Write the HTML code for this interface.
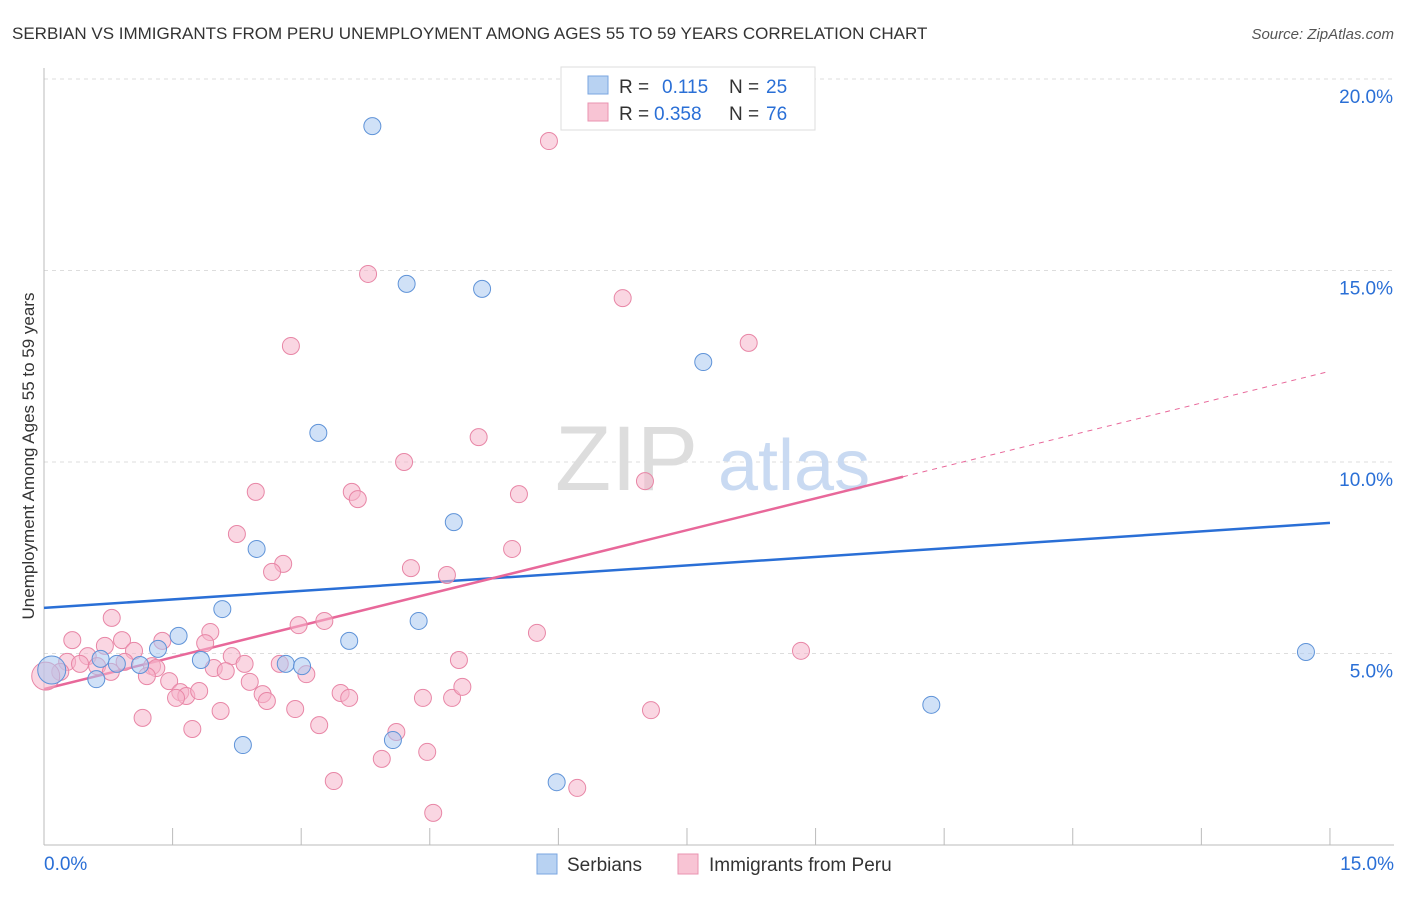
<!DOCTYPE html>
<html><head><meta charset="utf-8"><style>
body{margin:0;background:#fff;font-family:"Liberation Sans",sans-serif;}
svg text{font-family:"Liberation Sans",sans-serif;}
</style></head><body>
<svg id="chart" width="1406" height="892" xmlns="http://www.w3.org/2000/svg">
<text x="12" y="39" font-size="17" fill="#333">SERBIAN VS IMMIGRANTS FROM PERU UNEMPLOYMENT AMONG AGES 55 TO 59 YEARS CORRELATION CHART</text>
<text x="1394" y="39" font-size="15" fill="#555" text-anchor="end" font-style="italic">Source: ZipAtlas.com</text>
<g id="grid"></g>
<text x="555" y="490" font-size="92" fill="#ddd" font-family="Liberation Serif">ZIP</text>
<text x="718" y="490" font-size="72" fill="#c9daf2">atlas</text>
<text transform="translate(34,456) rotate(-90)" font-size="17" fill="#333" text-anchor="middle">Unemployment Among Ages 55 to 59 years</text>
<g id="lines"></g>
<g id="points"></g>
<g>
<rect x="561" y="67" width="254" height="63" fill="#fff" stroke="#ddd"/>
<rect x="588" y="76" width="20" height="18" fill="#b8d2f2" stroke="#7aa6e0"/>
<text x="619" y="93" font-size="19" fill="#333">R = </text><text x="662" y="93" font-size="19" fill="#2a6fd6">0.115</text>
<text x="729" y="93" font-size="19" fill="#333">N = </text><text x="766" y="93" font-size="19" fill="#2a6fd6">25</text>
<rect x="588" y="103" width="20" height="18" fill="#f8c4d4" stroke="#ea93b0"/>
<text x="619" y="120" font-size="19" fill="#333">R = </text><text x="654" y="120" font-size="19" fill="#2a6fd6">0.358</text>
<text x="729" y="120" font-size="19" fill="#333">N = </text><text x="766" y="120" font-size="19" fill="#2a6fd6">76</text>
</g>
<g>
<rect x="537" y="854" width="20" height="20" fill="#b8d2f2" stroke="#7aa6e0"/>
<text x="567" y="871" font-size="19" fill="#333">Serbians</text>
<rect x="678" y="854" width="20" height="20" fill="#f8c4d4" stroke="#ea93b0"/>
<text x="709" y="871" font-size="19" fill="#333">Immigrants from Peru</text>
</g>
</svg>
<script>
const yTicks=[5,10,15,20];
const yTickLabels=["5.0%","10.0%","15.0%","20.0%"];
const xTickLabels=["0.0%","15.0%"];
const blueX=[3.83,4.23,5.11,7.69,3.20,4.78,2.48,2.08,4.37,1.57,3.56,1.33,0.66,0.85,1.12,1.83,2.82,3.01,0.61,0.09,2.32,4.07,5.98,10.35,14.72];
const blueY=[18.77,14.65,14.52,12.61,10.76,8.43,7.73,6.16,5.85,5.46,5.33,5.12,4.86,4.73,4.70,4.83,4.73,4.67,4.33,4.57,2.61,2.74,1.64,3.66,5.04];
const pinkX=[5.89,3.78,6.75,2.88,8.22,5.07,4.20,2.47,3.59,3.66,5.54,7.01,2.25,5.46,2.79,2.66,4.28,4.70,0.79,3.27,2.97,5.75,0.33,0.91,1.94,1.38,1.88,0.71,1.05,0.51,2.19,8.83,4.84,0.27,0.42,0.62,0.94,1.26,1.31,1.98,2.34,2.75,2.12,0.19,0.78,1.20,3.06,0.02,1.46,2.40,1.59,1.66,1.81,1.54,2.55,2.60,3.46,3.56,4.42,4.76,4.88,2.06,2.93,7.08,1.15,3.21,1.73,4.11,4.47,3.94,3.38,6.22,4.54];
const pinkY=[18.38,14.91,14.28,13.03,13.11,10.65,10.0,9.22,9.22,9.03,9.16,9.50,8.12,7.73,7.34,7.13,7.23,7.05,5.93,5.85,5.74,5.54,5.35,5.35,5.56,5.33,5.27,5.20,5.07,4.93,4.93,5.07,4.83,4.78,4.73,4.67,4.78,4.67,4.62,4.62,4.73,4.73,4.54,4.52,4.52,4.41,4.46,4.41,4.28,4.26,3.99,3.89,4.02,3.84,3.94,3.76,3.97,3.84,3.84,3.84,4.13,3.50,3.55,3.52,3.32,3.13,3.03,2.95,2.43,2.25,1.67,1.49,0.84];
const blueLine=[6.19,8.41];
const pinkLine=[4.07,12.37];
const pinkSolidEnd=10.02;
const NS="http://www.w3.org/2000/svg";
const X=v=>44+v*85.73, Y=v=>845-v*38.3;
function mk(tag,attrs,parent){const e=document.createElementNS(NS,tag);for(const k in attrs)e.setAttribute(k,attrs[k]);document.getElementById(parent).appendChild(e);return e;}
// grid & axes
yTicks.forEach((t,i)=>{
 const g=mk('line',{x1:44,x2:1394,y1:Y(t),y2:Y(t),stroke:'#ddd','stroke-dasharray':'4,4'},'grid');
 
 
 const tx=mk('text',{x:1393,y:Y(t)+24,'font-size':19,fill:'#2a6fd6','text-anchor':'end'},'grid');
 tx.textContent=yTickLabels[i];
 
 
});
const ax=mk('line',{x1:44,x2:1394,y1:845,y2:845,stroke:'#bbb'},'grid');


const ay=mk('line',{x1:44,x2:44,y1:68,y2:845,stroke:'#bbb'},'grid');


for(let i=0;i<=10;i++){
 const t=mk('line',{x1:X(i*1.5),x2:X(i*1.5),y1:828,y2:845,stroke:'#bbb'},'grid');
 
 
}
[[0,'start',44],[15,'end',1394]].forEach((d,i)=>{
 const tx=mk('text',{x:d[2],y:870,'font-size':19,fill:'#2a6fd6','text-anchor':d[1]},'grid');
 tx.textContent=xTickLabels[i];
 
 
});
function pts(xs,ys,fill,stroke,name){
 xs.forEach((x,i)=>{
  const big=x<0.15;
  const c=mk('circle',{cx:X(x),cy:Y(ys[i]),r:big?14:8.5,fill:fill,'fill-opacity':0.55,stroke:stroke,'stroke-width':1},'points');
  
  
 });
}
pts(pinkX,pinkY,'#f6b5ca','#e886a6','point-peru');
pts(blueX,blueY,'#a9c8f0','#5f93d8','point-serbian');
const bl=mk('line',{x1:X(0),y1:Y(blueLine[0]),x2:X(15),y2:Y(blueLine[1]),stroke:'#2a6fd6','stroke-width':2.5},'lines');


const pEnd=pinkLine[0]+(pinkLine[1]-pinkLine[0])*pinkSolidEnd/15;
const pl=mk('line',{x1:X(0),y1:Y(pinkLine[0]),x2:X(pinkSolidEnd),y2:Y(pEnd),stroke:'#e8689a','stroke-width':2.5},'lines');


const pd=mk('line',{x1:X(pinkSolidEnd),y1:Y(pEnd),x2:X(15),y2:Y(pinkLine[1]),stroke:'#e8689a','stroke-width':1,'stroke-dasharray':'5,5'},'lines');


</script>
</body></html>
